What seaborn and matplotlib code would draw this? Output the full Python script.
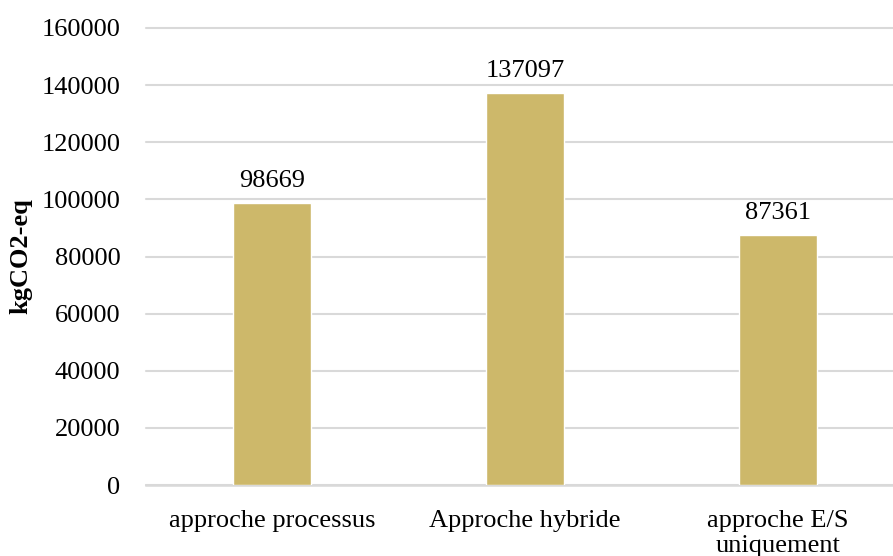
import matplotlib
matplotlib.use("Agg")
import matplotlib.pyplot as plt
import seaborn as sns

# data
categories = ["approche processus", "Approche hybride", "approche E/S\nuniquement"]
values = [98669, 137097, 87361]
yticks = [0, 20000, 40000, 60000, 80000, 100000, 120000, 140000, 160000]

sns.set_style("white")
plt.rcParams['font.family'] = ['Liberation Serif', 'DejaVu Serif']
plt.rcParams['text.color'] = 'black'
plt.rcParams['axes.labelcolor'] = 'black'
plt.rcParams['xtick.color'] = 'black'
plt.rcParams['ytick.color'] = 'black'

fig = plt.figure(figsize=(8.93, 5.56), dpi=100)
ax = fig.add_axes([145.5 / 893, 71 / 556, (893 - 145.5) / 893, 457 / 556])

sns.barplot(x=categories, y=values, color="#CDB86A", width=0.31, saturation=1, ax=ax, zorder=3)

ax.set_xlim(-0.5, -0.5 + (893 - 145.5) / 253)
ax.set_ylim(0, 160000)
ax.set_yticks(yticks)
ax.set_yticklabels([str(t) for t in yticks], fontsize=19)
ax.tick_params(axis='y', length=0, pad=18)
ax.tick_params(axis='x', length=0, pad=18, labelsize=19)
ax.set_ylabel("kgCO2-eq", fontsize=19, fontweight='bold')
ax.yaxis.set_label_coords((32 - 145.5) / 747.5, 0.5)

ax.grid(axis='y', color='#D9D9D9', linewidth=1.5, zorder=0)
for gl in ax.get_ygridlines():
    gl.set_clip_on(False)
for s in ['top', 'right', 'left']:
    ax.spines[s].set_visible(False)
ax.spines['bottom'].set_color('#D9D9D9')
ax.spines['bottom'].set_linewidth(1.8)

for i, v in enumerate(values):
    ax.annotate(str(v), (i, v), xytext=(0, 8), textcoords='offset points',
                ha='center', va='bottom', fontsize=19)

fig.savefig("out.png", dpi=100)
